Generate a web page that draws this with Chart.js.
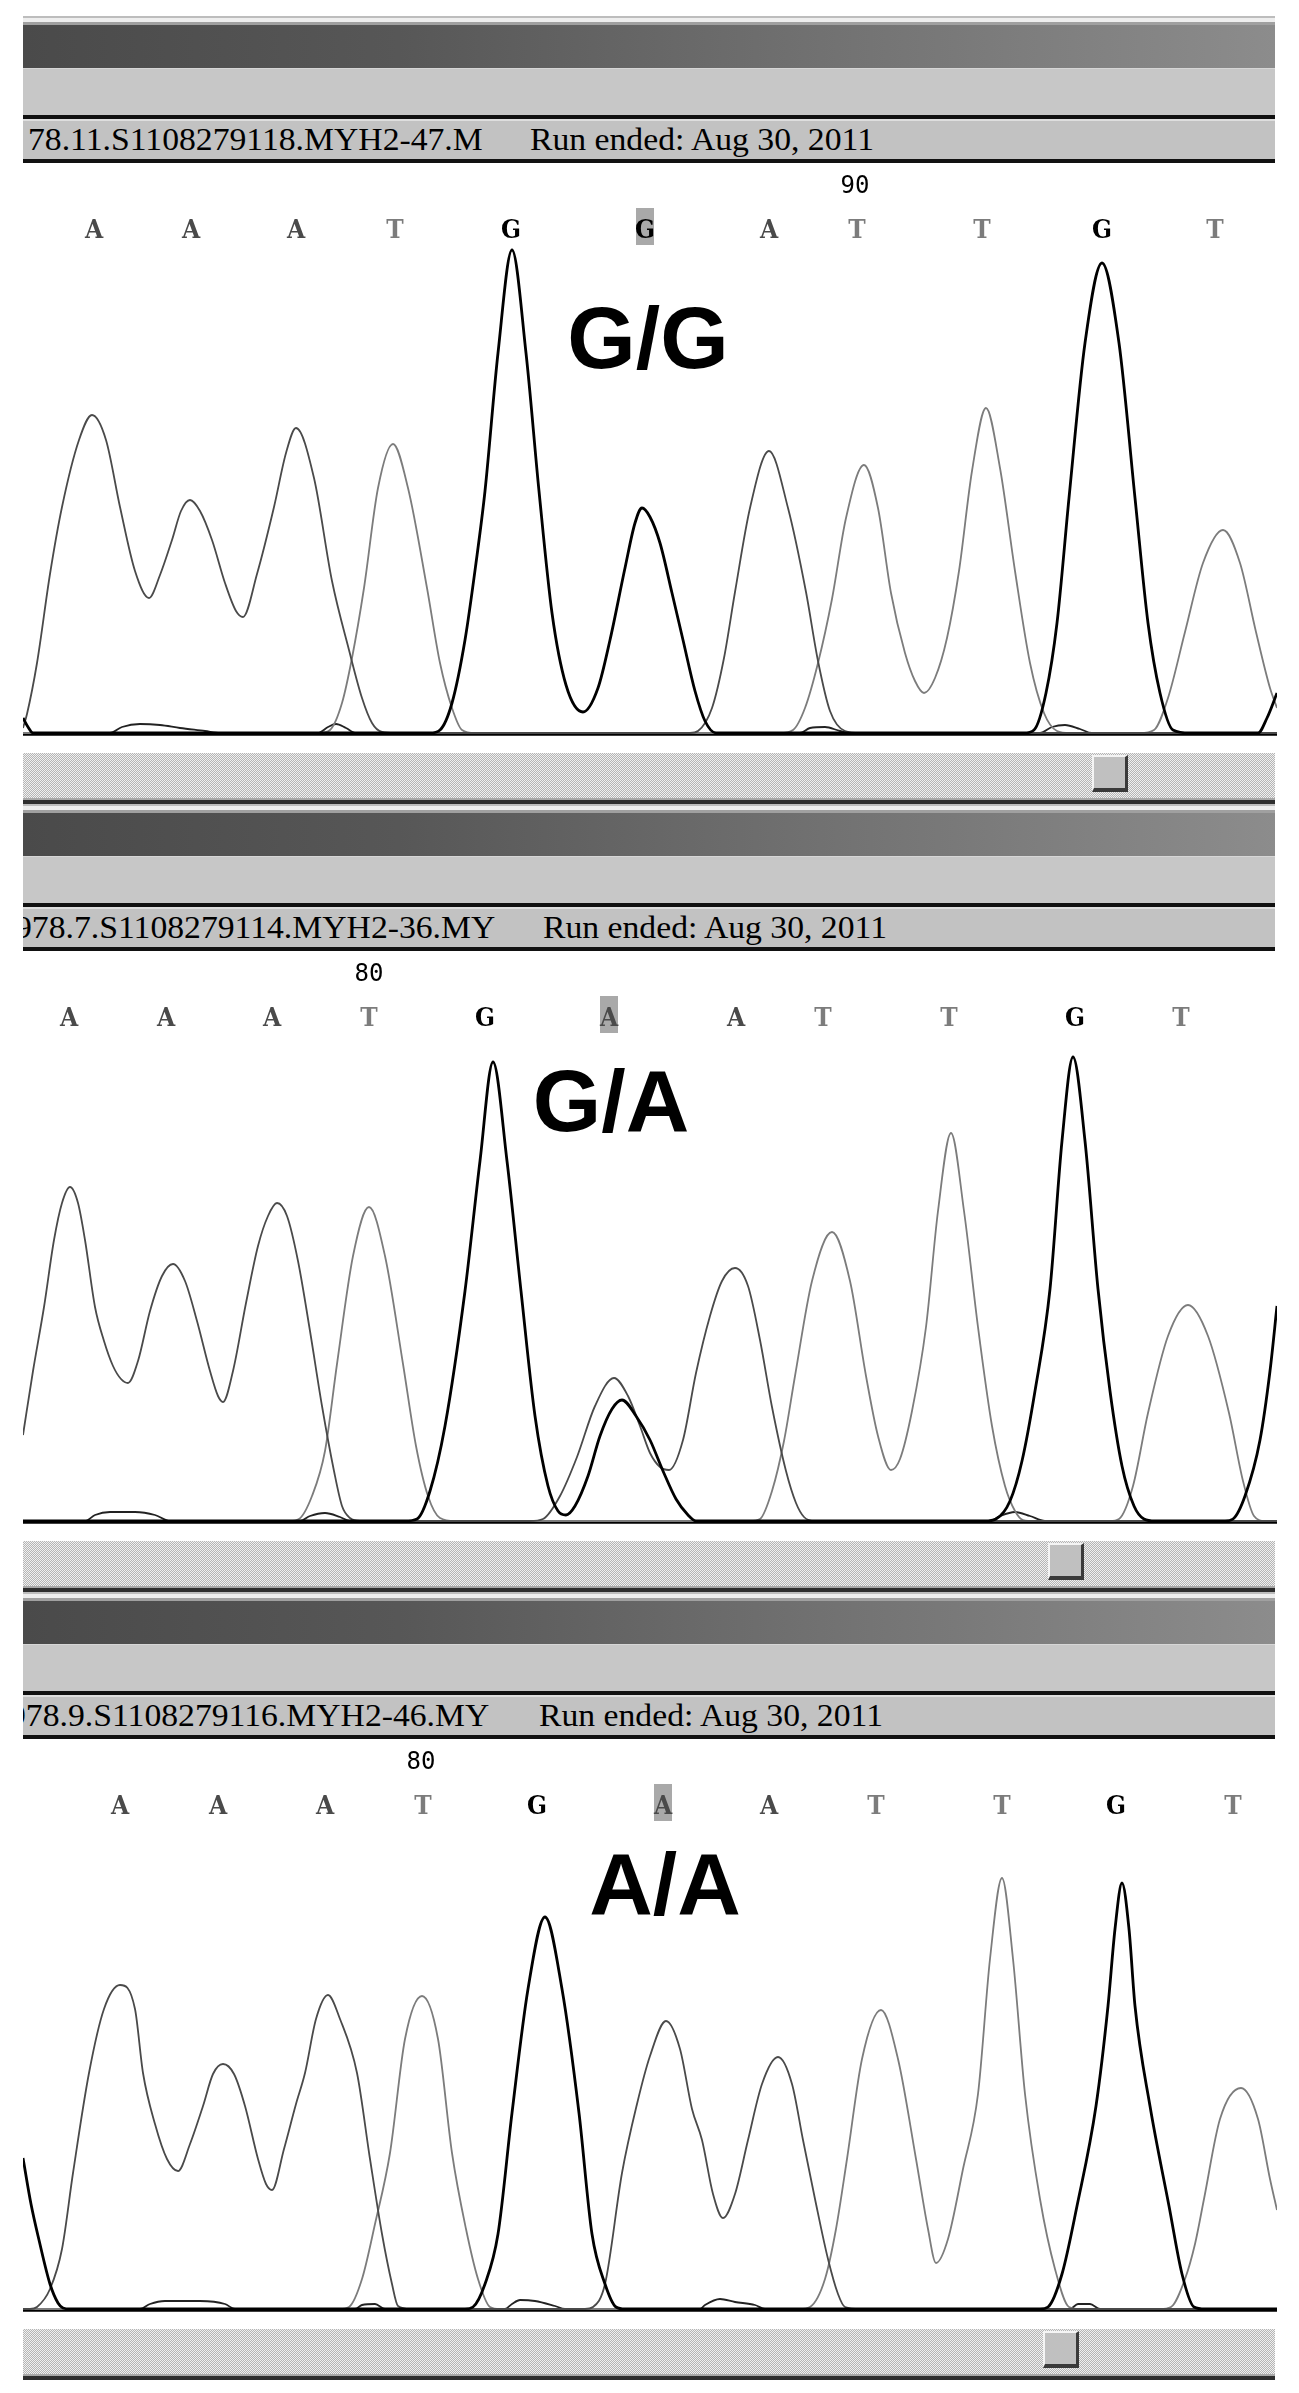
<!DOCTYPE html>
<html>
<head>
<meta charset="utf-8">
<script src="https://cdn.jsdelivr.net/npm/chart.js@4.4.1/dist/chart.umd.min.js"></script>
<style>
  body { margin: 0; width: 1299px; height: 2393px; background: #fff; position: relative; overflow: hidden; }
  .abs { position: absolute; }
  .strip { left: 23px; width: 1252px; height: 9px;
    background: linear-gradient(#bdbdbd 0 2px, #eeeeee 2px 6px, #a0a0a0 6px 9px); }
  .dark { left: 23px; width: 1252px; height: 43px;
    background: linear-gradient(to right, #4a4a4a, #575757 30%, #727272 65%, #8c8c8c); }
  .light { left: 23px; width: 1252px; height: 47px; background: #c7c7c7; border-top: 1px solid #d6d6d6; box-sizing: border-box; }
  .rule { left: 23px; width: 1252px; height: 4px; background: #111; }
  .fname { left: 23px; width: 1252px; height: 40px; background: #c2c2c2; overflow: hidden;
    border-top: 2px solid #dedede; box-sizing: border-box; }
  .fname span { position: absolute; top: 0; line-height: 38px; white-space: nowrap;
    font-family: "Liberation Serif", "Times New Roman", serif; font-size: 31px; color: #000; transform-origin: 0 0; }
  .scroll { left: 23px; width: 1252px; height: 45px;
    background-image: repeating-conic-gradient(#b5b5b5 0% 25%, #f0f0f0 0% 50%); background-size: 2px 2px; }
  .scrollEdge { left: 23px; width: 1252px; height: 6px; background: linear-gradient(#a8a8a8 0 2px, #2e2e2e 2px); }
  .thumb { height: 37px; background: #c0c0c0; box-sizing: border-box;
    border-top: 2px solid #f4f4f4; border-left: 2px solid #f4f4f4; border-bottom: 4px solid #3a3a3a; border-right: 3px solid #3a3a3a; }
  canvas.trace { position: absolute; left: 23px; }
</style>
</head>
<body>
<script>
// trace points: [scan position, signal above baseline]
const p1A = [[23,5],[27,19],[37,70],[50,159],[62,226],[79,293],[92,318],[106,293],[120,226],[135,162],[149,135],[160,158],[172,193],[181,222],[190,233],[200,222],[212,193],[225,150],[236,122],[243,116],[257,159],[274,226],[286,280],[296,305],[314,255],[332,152],[349,83],[362,35],[372,10],[382,1],[395,0],[690,0],[698,2],[712,25],[724,75],[735,141],[750,225],[769,282],[788,225],[806,141],[818,72],[830,22],[845,2],[860,0],[1277,0]];
const p1C = [[23,0],[110,0],[122,6],[140,9],[160,8],[180,5],[205,2],[220,0],[318,0],[328,6],[336,9],[346,5],[356,0],[800,0],[810,5],[825,6],[840,2],[850,0],[1040,0],[1052,6],[1065,8],[1080,4],[1092,0],[1277,0]];
const p1G = [[23,15],[28,6],[33,0],[430,0],[440,3],[452,30],[465,93],[476,170],[485,242],[498,380],[512,483],[526,380],[539,242],[552,120],[566,48],[583,21],[598,45],[610,93],[625,165],[635,210],[642,225],[650,216],[660,190],[672,140],[683,93],[695,42],[705,12],[716,0],[1024,0],[1034,3],[1046,40],[1057,110],[1069,235],[1085,390],[1102,470],[1119,390],[1135,235],[1148,110],[1160,40],[1173,3],[1190,0],[1258,0],[1267,15],[1277,40]];
const p1T = [[23,0],[320,0],[330,3],[342,30],[352,75],[364,145],[378,245],[393,289],[408,245],[427,145],[440,70],[452,25],[462,3],[475,0],[780,0],[793,3],[805,25],[818,70],[832,134],[846,215],[864,268],[878,225],[891,140],[905,80],[915,52],[924,40],[935,55],[947,95],[959,162],[972,262],[986,325],[1000,265],[1015,162],[1030,70],[1044,20],[1057,2],[1070,0],[1140,0],[1154,3],[1168,35],[1185,101],[1203,170],[1223,203],[1240,170],[1256,101],[1270,45],[1277,25]];

const p2A = [[23,86],[33,150],[44,214],[54,281],[62,318],[70,334],[78,318],[85,281],[95,214],[104,180],[113,155],[121,142],[128,138],[138,160],[150,210],[162,245],[173,257],[185,240],[197,200],[210,150],[218,125],[223,119],[233,150],[246,218],[258,275],[268,305],[277,318],[287,305],[298,260],[310,190],[322,115],[334,50],[342,15],[350,3],[360,0],[530,0],[543,2],[560,25],[577,64],[595,115],[614,143],[628,125],[640,95],[650,68],[660,54],[669,51],[683,81],[696,148],[710,205],[722,240],[735,253],[748,235],[760,181],[772,114],[786,50],[796,18],[804,4],[815,0],[1277,0]];
const p2C = [[23,0],[85,0],[95,6],[110,9],[135,9],[155,6],[170,0],[300,0],[310,5],[325,8],[340,4],[350,0],[990,0],[1000,5],[1015,9],[1030,5],[1045,0],[1277,0]];
const p2G = [[23,0],[405,0],[417,2],[430,30],[445,95],[465,230],[480,360],[493,459],[507,360],[521,230],[535,105],[548,35],[558,10],[566,6],[575,15],[588,45],[600,85],[612,112],[622,121],[636,105],[650,81],[663,50],[676,22],[688,6],[696,0],[985,0],[996,2],[1010,20],[1022,60],[1035,130],[1050,232],[1062,380],[1073,464],[1085,380],[1098,232],[1110,130],[1122,55],[1134,15],[1144,2],[1155,0],[1225,0],[1233,2],[1245,25],[1260,81],[1270,150],[1277,215]];
const p2T = [[23,0],[290,0],[299,2],[312,25],[325,70],[337,157],[353,265],[369,314],[385,265],[403,157],[416,75],[428,25],[440,3],[455,0],[750,0],[760,2],[772,30],[784,80],[795,145],[812,240],[832,289],[850,240],[866,145],[878,85],[891,51],[900,62],[912,110],[926,194],[938,310],[951,388],[964,310],[978,194],[992,95],[1005,35],[1015,10],[1023,1],[1035,0],[1110,0],[1119,2],[1133,35],[1148,108],[1168,185],[1188,216],[1208,185],[1229,108],[1243,40],[1254,5],[1265,0],[1277,0]];

const p3A = [[23,0],[30,0],[37,2],[50,20],[62,60],[73,136],[89,236],[104,300],[120,324],[135,300],[143,236],[155,185],[167,150],[178,138],[190,165],[203,203],[213,235],[223,245],[234,235],[245,203],[258,150],[266,125],[272,119],[284,160],[296,205],[305,236],[316,290],[328,314],[340,290],[357,236],[370,150],[382,75],[392,25],[398,3],[410,0],[585,0],[593,2],[605,25],[622,136],[637,205],[650,253],[666,288],[680,260],[692,200],[702,169],[713,115],[723,91],[735,115],[748,169],[762,225],[778,252],[792,225],[803,169],[815,110],[828,50],[838,15],[845,2],[860,0],[1277,0]];
const p3C = [[23,0],[140,0],[150,5],[165,8],[200,8],[225,5],[235,0],[355,0],[362,4],[375,5],[385,0],[505,0],[512,5],[520,9],[535,8],[555,3],[565,0],[700,0],[705,4],[720,10],[735,7],[755,4],[765,0],[1070,0],[1078,5],[1090,5],[1100,0],[1277,0]];
const p3G = [[23,151],[31,105],[39,69],[50,25],[58,6],[63,1],[70,0],[465,0],[473,2],[485,25],[498,75],[512,196],[528,320],[545,392],[562,320],[579,196],[592,75],[605,25],[616,2],[625,0],[1040,0],[1048,2],[1062,35],[1077,103],[1096,203],[1108,303],[1115,380],[1122,426],[1129,380],[1135,303],[1150,203],[1169,103],[1182,35],[1194,2],[1205,0],[1277,0]];
const p3T = [[23,0],[340,0],[349,2],[362,30],[375,85],[390,156],[405,270],[422,313],[438,270],[452,156],[466,80],[478,30],[490,2],[500,0],[800,0],[810,2],[825,30],[836,80],[847,150],[862,250],[881,299],[898,250],[916,150],[928,80],[936,46],[948,70],[963,140],[978,215],[990,350],[1002,431],[1013,350],[1025,215],[1040,110],[1055,40],[1069,2],[1080,0],[1160,0],[1171,2],[1185,30],[1195,65],[1204,110],[1220,190],[1241,221],[1258,190],[1270,130],[1277,99]];

// base calls and where they sit along the trace
const p1Calls = ['A','A','A','T','G','G','A','T','T','G','T'];
const p1CallPos = [94,191,296,395,511,645,769,857,982,1102,1215];
const p2Calls = ['A','A','A','T','G','A','A','T','T','G','T'];
const p2CallPos = [69,166,272,369,485,609,736,823,949,1075,1181];
const p3Calls = ['A','A','A','T','G','A','A','T','T','G','T'];
const p3CallPos = [120,218,325,423,537,663,769,876,1002,1116,1233];

const markNumbers = ['90', '80', '80'];
const markPos = [855, 369, 421];
const genotypes = ['G/G', 'G/A', 'A/A'];
const fileNames = ['78.11.S1108279118.MYH2-47.M', '978.7.S1108279114.MYH2-36.MY', '978.9.S1108279116.MYH2-46.MY'];
const runText = 'Run ended: Aug 30, 2011';

const baseColor = { A: '#4a4a4a', C: '#222222', G: '#000000', T: '#7c7c7c' };

const panels = [
  { top: 16, traces: { A: p1A, C: p1C, G: p1G, T: p1T }, calls: p1Calls, callPos: p1CallPos, highlight: 5,
    label: { x: 648, y: 365 }, nameRight: 460, runLeft: 507, thumb: 1092 },
  { top: 804, traces: { A: p2A, C: p2C, G: p2G, T: p2T }, calls: p2Calls, callPos: p2CallPos, highlight: 5,
    label: { x: 611, y: 390 }, nameRight: 472, runLeft: 520, thumb: 1048 },
  { top: 1592, traces: { A: p3A, C: p3C, G: p3G, T: p3T }, calls: p3Calls, callPos: p3CallPos, highlight: 5,
    label: { x: 665, y: 395 }, nameRight: 466, runLeft: 516, thumb: 1043 }
];

function addDiv(cls, top, extra) {
  const d = document.createElement('div');
  d.className = 'abs ' + cls;
  d.style.top = top + 'px';
  if (extra) Object.assign(d.style, extra);
  document.body.appendChild(d);
  return d;
}

const callPlugin = {
  id: 'calls',
  beforeDatasetsDraw(chart) {
    // thick baseline under the traces
    const ctx = chart.ctx;
    const y0 = chart.scales.y.getPixelForValue(0) + 1;
    ctx.save();
    ctx.strokeStyle = '#000';
    ctx.lineWidth = 3.5;
    ctx.beginPath();
    ctx.moveTo(chart.chartArea.left, y0);
    ctx.lineTo(chart.chartArea.right, y0);
    ctx.stroke();
    ctx.restore();
  },
  afterDatasetsDraw(chart, args, opts) {
    const ctx = chart.ctx;
    const x = chart.scales.x;
    const y = chart.scales.y;
    const p = opts.panel;
    const i = opts.index;
    ctx.save();
    // highlighted call
    const hx = x.getPixelForValue(p.callPos[p.highlight]);
    ctx.fillStyle = '#a9a9a9';
    ctx.fillRect(hx - 9, 45, 18, 37);
    ctx.textAlign = 'center';
    ctx.textBaseline = 'alphabetic';
    ctx.font = "bold 26px 'DejaVu Serif Condensed', 'DejaVu Serif', serif";
    p.calls.forEach((b, k) => {
      ctx.fillStyle = baseColor[b];
      ctx.fillText(b, x.getPixelForValue(p.callPos[k]), 75);
    });
    ctx.font = "24px 'DejaVu Sans Mono', monospace";
    ctx.fillStyle = '#000';
    ctx.fillText(markNumbers[i], x.getPixelForValue(markPos[i]), 30);
    ctx.font = "bold 88px 'Liberation Sans', Arial, sans-serif";
    ctx.fillText(genotypes[i], x.getPixelForValue(p.label.x), y.getPixelForValue(p.label.y));
    ctx.restore();
  }
};

panels.forEach((p, i) => {
  const T = p.top;
  addDiv('strip', T);
  addDiv('dark', T + 9);
  addDiv('light', T + 52);
  addDiv('rule', T + 99);
  const bar = addDiv('fname', T + 103);
  addDiv('rule', T + 143);

  const name = document.createElement('span');
  name.textContent = fileNames[i];
  const run = document.createElement('span');
  run.textContent = runText;
  bar.appendChild(name);
  bar.appendChild(run);
  const sx = 344 / run.getBoundingClientRect().width;
  run.style.left = p.runLeft + 'px';
  run.style.transform = 'scaleX(' + sx + ')';
  name.style.left = (p.nameRight - name.getBoundingClientRect().width * sx) + 'px';
  name.style.transform = 'scaleX(' + sx + ')';

  addDiv('scroll', T + 737);
  addDiv('scrollEdge', T + 782);
  addDiv('thumb', T + 739, { left: p.thumb + 'px', width: '36px' });

  const canvas = document.createElement('canvas');
  canvas.className = 'trace';
  canvas.width = 1254;
  canvas.height = 574;
  canvas.style.top = (T + 147) + 'px';
  document.body.appendChild(canvas);

  const datasets = ['G', 'A', 'T', 'C'].map(b => ({
    label: b,
    data: p.traces[b].map(([sx, v]) => ({ x: sx, y: v })),
    borderColor: baseColor[b],
    borderWidth: b === 'G' ? 2.8 : 1.8,
    pointRadius: 0,
    cubicInterpolationMode: 'monotone',
    borderJoinStyle: 'round',
    fill: false
  }));

  new Chart(canvas.getContext('2d'), {
    type: 'line',
    data: { datasets },
    options: {
      responsive: false,
      animation: false,
      devicePixelRatio: 1,
      layout: { padding: 0 },
      scales: {
        x: { type: 'linear', min: 23, max: 1277, display: false },
        y: { min: -4, max: 570, display: false }
      },
      plugins: {
        legend: { display: false },
        tooltip: { enabled: false },
        calls: { panel: p, index: i }
      }
    },
    plugins: [callPlugin]
  });
});
</script>
</body>
</html>
